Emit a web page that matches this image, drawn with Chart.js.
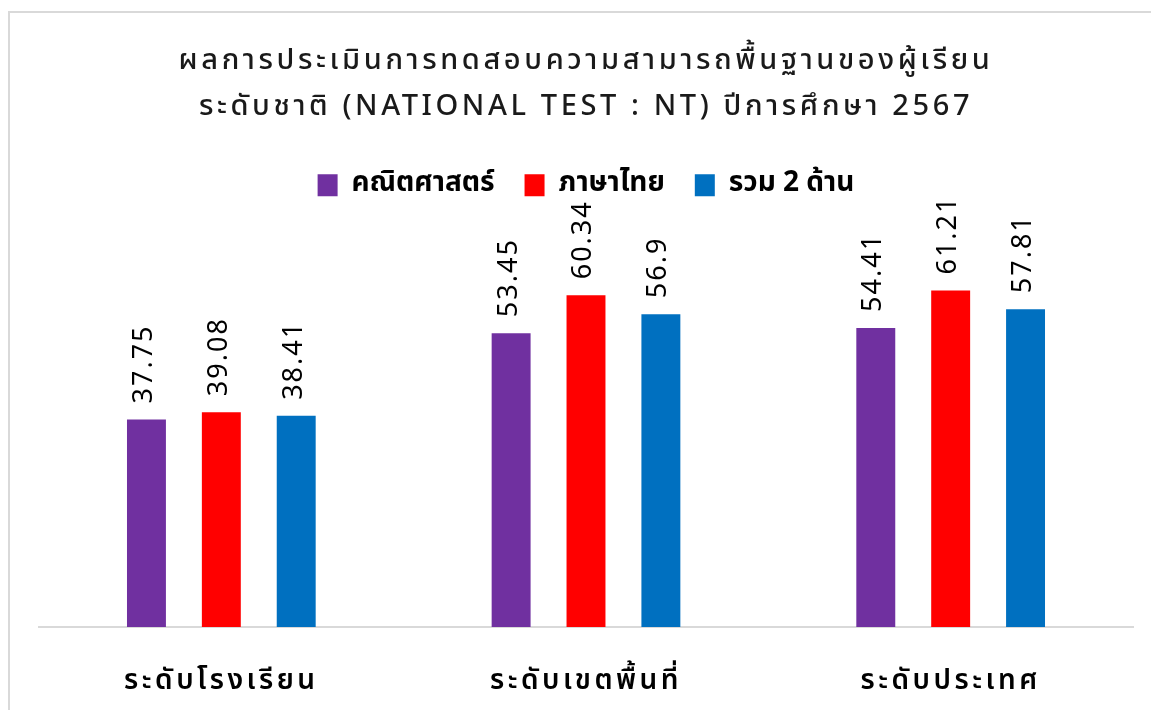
<!DOCTYPE html>
<html>
<head>
<meta charset="utf-8">
<script src="https://cdn.jsdelivr.net/npm/chart.js@4"></script>
<style>
  html, body { margin:0; padding:0; background:#fff; overflow:hidden; }
  #wrap { position:relative; width:1151px; height:710px; }
  #frame { position:absolute; left:8px; top:11px; width:1200px; height:800px; border-left:2px solid #d9d9d9; border-top:2px solid #d9d9d9; pointer-events:none; }
  canvas { position:absolute; left:0; top:0; }
</style>
</head>
<body>
<div id="wrap">
  <canvas id="c" width="1151" height="710"></canvas>
  <div id="frame"></div>
</div>
<script>
// chart data
const titleLines = ['ผลการประเมินการทดสอบความสามารถพื้นฐานของผู้เรียน', 'ระดับชาติ (NATIONAL TEST : NT) ปีการศึกษา 2567'];
const categories = ['ระดับโรงเรียน', 'ระดับเขตพื้นที่', 'ระดับประเทศ'];
const seriesNames = ['คณิตศาสตร์', 'ภาษาไทย', 'รวม 2 ด้าน'];
const mathScores = [37.75, 53.45, 54.41];
const thaiScores = [39.08, 60.34, 61.21];
const totalScores = [38.41, 56.9, 57.81];
const colors = ['#7030A0', '#FF0000', '#0070C0'];

const thaiFont = "Tahoma, 'Noto Sans Thai', 'Leelawadee UI', sans-serif";

// rotated value labels above the bars
const valueLabels = {
  id: 'valueLabels',
  afterDatasetsDraw(chart){
    const ctx = chart.ctx;
    ctx.save();
    ctx.fillStyle = '#000';
    ctx.font = '27px ' + thaiFont;
    ctx.letterSpacing = '2px';
    ctx.textAlign = 'left';
    ctx.textBaseline = 'middle';
    chart.data.datasets.forEach((ds, i) => {
      chart.getDatasetMeta(i).data.forEach((bar, j) => {
        ctx.save();
        ctx.translate(bar.x, bar.y - 16);
        ctx.rotate(-Math.PI/2);
        ctx.fillText(String(ds.data[j]), 0, 0);
        ctx.restore();
      });
    });
    ctx.restore();
  }
};

// letter spacing wrapper for a box's draw
function spaced(box, px){
  const orig = box.draw.bind(box);
  box.draw = function(area){
    const ctx = this.ctx;
    const prev = ctx.letterSpacing;
    ctx.letterSpacing = px;
    orig(area);
    ctx.letterSpacing = prev;
  };
}

const chart = new Chart(document.getElementById('c'), {
  type: 'bar',
  data: {
    labels: categories,
    datasets: [
      { label: seriesNames[0], data: mathScores, backgroundColor: colors[0] },
      { label: seriesNames[1], data: thaiScores, backgroundColor: colors[1] },
      { label: seriesNames[2], data: totalScores, backgroundColor: colors[2] }
    ]
  },
  options: {
    responsive: false,
    animation: false,
    categoryPercentage: 0.616,
    barPercentage: 0.52,
    layout: { padding: { top: 40, left: 39, right: 18, bottom: 12 } },
    plugins: {
      title: {
        display: true,
        text: titleLines,
        color: '#1a1a1a',
        font: { family: thaiFont, size: 29, weight: '500', lineHeight: 1.59 },
        padding: { top: 0, bottom: 9 }
      },
      legend: {
        display: true,
        labels: {
          color: '#000',
          font: { family: thaiFont, size: 28, weight: 'bold' },
          boxWidth: 20, boxHeight: 22,
          padding: 30
        }
      },
      tooltip: { enabled: false }
    },
    scales: {
      x: {
        grid: { display: false, drawTicks: false },
        border: { color: '#d9d9d9', width: 2 },
        ticks: { color: '#000', font: { family: thaiFont, size: 28, weight: '600' }, padding: 40, maxRotation: 0 },
        afterFit(scale){ scale.height = 71; }
      },
      y: {
        display: false,
        min: 0,
        max: 76
      }
    }
  },
  plugins: [valueLabels]
});

spaced(chart.titleBlock, '3.6px');
spaced(chart.scales.x, '3.5px');
chart.update();
</script>
</body>
</html>
